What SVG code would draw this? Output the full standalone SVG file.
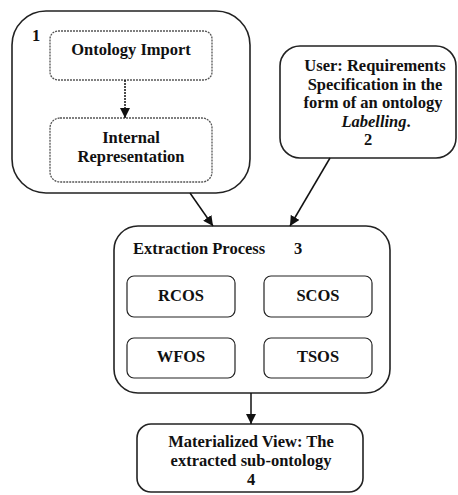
<svg xmlns="http://www.w3.org/2000/svg" width="458" height="495" viewBox="0 0 458 495">
<style>
text{font-family:"Liberation Serif","Times New Roman",serif;font-weight:bold;font-size:16.5px;fill:#111}
.c{text-anchor:middle}
.box{fill:#fff;stroke:#222;stroke-width:1.6}
.inner{fill:#fff;stroke:#222;stroke-width:1.2}
.dash{fill:#fff;stroke:#555;stroke-width:1.3;stroke-dasharray:2 1}
.conn{stroke:#111;stroke-width:1.5;fill:none}
</style>
<defs>
<marker id="ah" viewBox="0 0 10 10" refX="10" refY="5" markerWidth="10" markerHeight="10" markerUnits="userSpaceOnUse" orient="auto">
<path d="M0,0 L10,5 L0,10 z" fill="#111"/>
</marker>
</defs>
<rect width="458" height="495" fill="#fff"/>
<g id="node1">
<rect class="box" x="12" y="11" width="238" height="182" rx="34" ry="34"/>
<text x="32" y="41">1</text>
<g id="ontology-import">
<rect class="dash" x="50" y="31" width="162" height="49" rx="8" ry="8"/>
<text class="c" x="131" y="55">Ontology Import</text>
</g>
<g id="internal-representation">
<rect class="dash" x="50" y="118" width="162" height="64" rx="10" ry="10"/>
<text class="c" x="131" y="143">Internal</text>
<text class="c" x="131" y="162">Representation</text>
</g>
</g>
<g id="node2">
<rect class="box" x="280" y="46" width="176" height="112" rx="20" ry="20"/>
<text class="c" x="375" y="71">User: Requirements</text>
<text class="c" x="375" y="89.5">Specification in the</text>
<text class="c" x="373" y="108">form of an ontology</text>
<text class="c" x="376" y="126.5"><tspan font-style="italic">Labelling</tspan>.</text>
<text class="c" x="368" y="145">2</text>
</g>
<g id="node3">
<rect class="box" x="114" y="226" width="276" height="167" rx="24" ry="24"/>
<text x="133" y="254">Extraction Process</text>
<text x="294" y="254">3</text>
<g id="rcos">
<rect class="inner" x="127" y="276" width="108" height="41" rx="7" ry="7"/>
<text class="c" x="181" y="301">RCOS</text>
</g>
<g id="scos">
<rect class="inner" x="264" y="276" width="108" height="41" rx="7" ry="7"/>
<text class="c" x="318" y="301">SCOS</text>
</g>
<g id="wfos">
<rect class="inner" x="127" y="338" width="108" height="40" rx="7" ry="7"/>
<text class="c" x="181" y="362">WFOS</text>
</g>
<g id="tsos">
<rect class="inner" x="264" y="338" width="108" height="40" rx="7" ry="7"/>
<text class="c" x="318" y="362">TSOS</text>
</g>
</g>
<g id="node4">
<rect class="box" x="137" y="424" width="226" height="68" rx="14" ry="14"/>
<text class="c" x="251" y="447">Materialized View: The</text>
<text class="c" x="251" y="466">extracted sub-ontology</text>
<text class="c" x="251" y="485">4</text>
</g>
<g id="connectors">
<line class="conn" x1="125" y1="80" x2="125" y2="118" stroke-dasharray="2 1" marker-end="url(#ah)"/>
<line class="conn" x1="190" y1="193" x2="213" y2="226" marker-end="url(#ah)"/>
<line class="conn" x1="330" y1="158" x2="290" y2="226" marker-end="url(#ah)"/>
<line class="conn" x1="251" y1="393" x2="251" y2="424" marker-end="url(#ah)"/>
</g>
</svg>
